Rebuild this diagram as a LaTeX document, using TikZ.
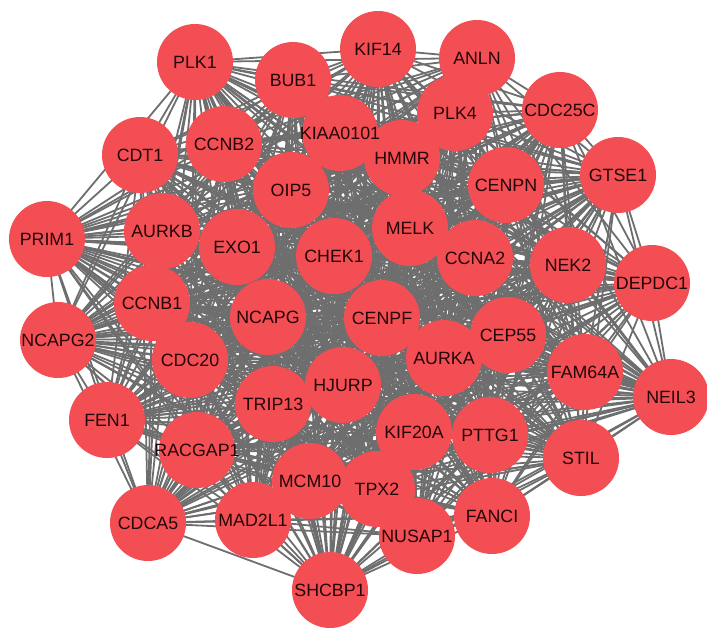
\documentclass[tikz,border=0pt]{standalone}
\usepackage{fontspec}
\setmainfont{Liberation Sans}
\pgfdeclarelayer{background}
\pgfsetlayers{background,main}
\definecolor{nodered}{RGB}{243,78,84}
\definecolor{edgegray}{RGB}{110,110,110}
\definecolor{labeltext}{RGB}{35,6,8}
\def\genes{PLK1,KIF14,ANLN,BUB1,KIAA0101,PLK4,CDC25C,CDT1,CCNB2,HMMR,GTSE1,OIP5,CENPN,PRIM1,AURKB,EXO1,MELK,CHEK1,CCNA2,NEK2,DEPDC1,CCNB1,NCAPG,CENPF,CEP55,NCAPG2,CDC20,AURKA,FAM64A,NEIL3,FEN1,HJURP,TRIP13,KIF20A,PTTG1,STIL,RACGAP1,MCM10,TPX2,FANCI,CDCA5,MAD2L1,NUSAP1,SHCBP1}
\begin{document}
\begin{tikzpicture}[x=1pt,y=-1pt,
  ball/.style={circle,fill=nodered,minimum size=76pt,inner sep=0pt},
  lbl/.style={text=labeltext,font=\fontsize{17.8}{20}\selectfont,inner sep=0pt},
  edgeline/.style={draw=edgegray,line width=1.8pt}]
\useasboundingbox (0,0) rectangle (707,627);
\foreach \n/\x/\y in {
  PLK1/195/62, KIF14/378/49, ANLN/477/58, BUB1/293/80, KIAA0101/340/133,
  PLK4/455/113, CDC25C/560/110, CDT1/140/155, CCNB2/224/144, HMMR/402/158,
  GTSE1/618/175, OIP5/291/190, CENPN/506/185, PRIM1/47/239, AURKB/162/231,
  EXO1/237/247, MELK/410/228, CHEK1/334/256, CCNA2/475/258, NEK2/568/265,
  DEPDC1/652/283, CCNB1/152/303, NCAPG/268/317, CENPF/382/318, CEP55/508/335,
  NCAPG2/58/340, CDC20/190/360, AURKA/444/358, FAM64A/585/372, NEIL3/671/397,
  FEN1/107/420, HJURP/343/385, TRIP13/273/404, KIF20A/414/432, PTTG1/490/435,
  STIL/581/458, RACGAP1/197/450, MCM10/310/481, TPX2/377/489, FANCI/492/516,
  CDCA5/148/523, MAD2L1/253/520, NUSAP1/417/536, SHCBP1/330/590}
  {\node[ball] (\n) at (\x,\y) {};}
\foreach \n in \genes {\node[lbl] at (\n) {\n};}
\begin{pgfonlayer}{background}
\foreach \a [count=\i] in \genes {
  \foreach \b [count=\j] in \genes {
    \ifnum\j>\i \draw[edgeline] (\a.center) -- (\b.center);\fi
  }
}
\end{pgfonlayer}
\end{tikzpicture}
\end{document}
